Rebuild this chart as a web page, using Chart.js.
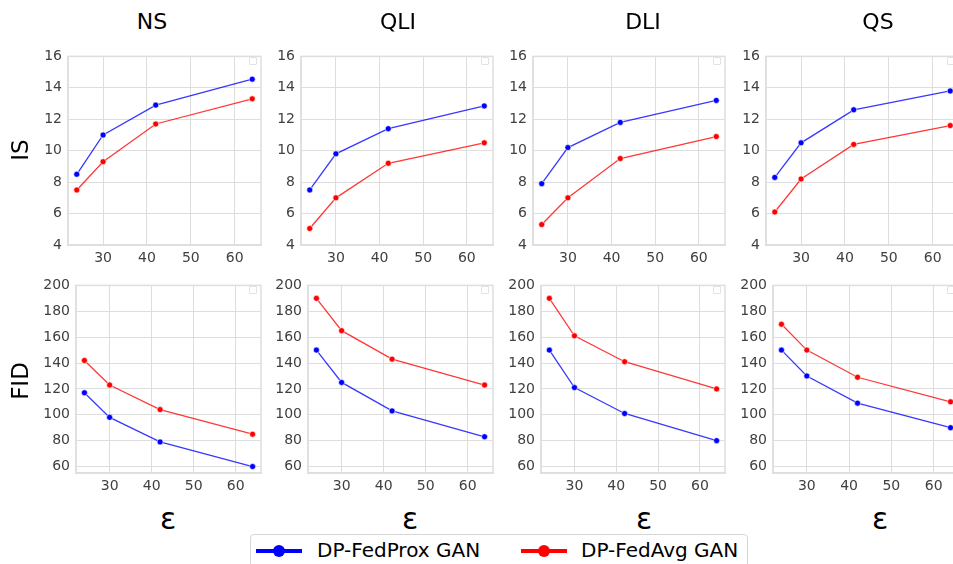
<!DOCTYPE html>
<html>
<head>
<meta charset="utf-8">
<script src="https://cdn.jsdelivr.net/npm/chart.js@4.4.1/dist/chart.umd.min.js"></script>
<style>
  body { margin: 0; width: 953px; height: 564px; overflow: hidden; background: #fff; font-family: "DejaVu Sans", sans-serif; position: relative; }
  canvas { position: absolute; }
  .lbl { position: absolute; color: #000; white-space: nowrap; transform: translate(-50%, -50%); }
  .mini { position: absolute; width: 6px; height: 6px; border: 1px solid #e2e2e2; border-radius: 1px; }
  #legend { position: absolute; left: 250px; top: 534px; width: 496px; height: 40px; border: 1px solid #d6d6d6; border-radius: 4px; }
  .key { position: absolute; top: 14px; width: 46px; height: 4px; }
  .key i { position: absolute; left: 17px; top: -4px; width: 12px; height: 12px; border-radius: 50%; }
  .ktxt { position: absolute; top: 3px; font-size: 20px; }
</style>
</head>
<body>
<div id="legend">
  <div class="key" style="left:5px;background:#0000ff"><i style="background:#0000ff"></i></div>
  <div class="ktxt" style="left:66px">DP-FedProx GAN</div>
  <div class="key" style="left:270px;background:#ff0000"><i style="background:#ff0000"></i></div>
  <div class="ktxt" style="left:330px">DP-FedAvg GAN</div>
</div>
<script>
// privacy budget on the x axis
const eps = [24, 30, 42, 64];
const epsTicks = [30, 40, 50, 60];
const columns = ['NS', 'QLI', 'DLI', 'QS'];

// IS (top row), one array per column
const isFedProx = [
  [8.5, 11.0, 12.9, 14.55],
  [7.5, 9.8, 11.4, 12.85],
  [7.9, 10.2, 11.8, 13.2],
  [8.3, 10.5, 12.6, 13.8]
];
const isFedAvg = [
  [7.5, 9.3, 11.7, 13.3],
  [5.05, 7.0, 9.2, 10.5],
  [5.3, 7.0, 9.5, 10.9],
  [6.1, 8.2, 10.4, 11.6]
];
const isTicks = [4, 6, 8, 10, 12, 14, 16];

// FID (bottom row)
const fidFedProx = [
  [117, 98, 79, 60],
  [150, 125, 103, 83],
  [150, 121, 101, 80],
  [150, 130, 109, 90]
];
const fidFedAvg = [
  [142, 123, 104, 85],
  [190, 165, 143, 123],
  [190, 161, 141, 120],
  [170, 150, 129, 110]
];
const fidTicks = [60, 80, 100, 120, 140, 160, 180, 200];

// plot area placement
const isLeft = [68, 301, 533, 766];
const fidLeft = [76, 308, 541, 773];
const plotRight = [261, 493, 725, 959];
const rowTop = [54, 283];
const rowHeight = [191, 190];

const yAxisW = 46, xAxisH = 28, padTop = 12, padRight = 6;

function makePanel(row, col) {
  var left = row == 0 ? isLeft[col] : fidLeft[col];
  var w = plotRight[col] - left;
  var h = rowHeight[row];
  var canvas = document.createElement('canvas');
  canvas.width = w + yAxisW + padRight;
  canvas.height = h + xAxisH + padTop;
  canvas.style.left = (left - yAxisW) + 'px';
  canvas.style.top = (rowTop[row] - padTop) + 'px';
  document.body.appendChild(canvas);

  var prox = row == 0 ? isFedProx[col] : fidFedProx[col];
  var avg = row == 0 ? isFedAvg[col] : fidFedAvg[col];
  var yTicks = row == 0 ? isTicks : fidTicks;

  var series = function(vals, line, dot) {
    return {
      data: vals.map((v, i) => ({x: eps[i], y: v})),
      borderColor: line,
      backgroundColor: dot,
      pointBackgroundColor: dot,
      pointBorderColor: '#ffffff',
      pointBorderWidth: 0.6,
      pointRadius: 3,
      borderWidth: 1.3,
      tension: 0
    };
  };

  new Chart(canvas.getContext('2d'), {
    type: 'line',
    data: {
      datasets: [
        series(avg, 'rgba(255,0,0,0.78)', '#ff0000'),
        series(prox, 'rgba(0,0,255,0.78)', '#0000ff')
      ]
    },
    options: {
      responsive: false,
      animation: false,
      layout: { padding: { top: padTop, right: padRight, left: 0, bottom: 0 } },
      plugins: { legend: { display: false }, tooltip: { enabled: false } },
      scales: {
        x: {
          type: 'linear', min: 22, max: 66,
          afterBuildTicks: s => { s.ticks = epsTicks.map(v => ({value: v})); },
          afterFit: s => { s.height = xAxisH; },
          grid: { color: '#dedede', lineWidth: 1, drawTicks: false },
          border: { color: '#dedede', width: 1.5 },
          ticks: { color: '#404040', font: { family: 'DejaVu Sans', size: 14 }, padding: 5, maxRotation: 0 }
        },
        y: {
          min: yTicks[0] - (row == 0 ? 0 : 5), max: yTicks[yTicks.length - 1],
          afterBuildTicks: s => { s.ticks = yTicks.map(v => ({value: v})); },
          afterFit: s => { s.width = yAxisW; },
          grid: { color: '#dedede', lineWidth: 1, drawTicks: false },
          border: { color: '#dedede', width: 1.5 },
          ticks: { color: '#404040', font: { family: 'DejaVu Sans', size: 14 }, padding: 6 }
        }
      }
    },
    plugins: [{
      id: 'frame',
      afterDraw: function(chart) {
        var a = chart.chartArea, c = chart.ctx;
        c.save();
        c.strokeStyle = '#dedede';
        c.lineWidth = 1.5;
        c.strokeRect(a.left, a.top, a.right - a.left, a.bottom - a.top);
        c.restore();
      }
    }]
  });

  var mini = document.createElement('div');
  mini.className = 'mini';
  mini.style.left = (plotRight[col] - 12) + 'px';
  mini.style.top = (rowTop[row] + 3) + 'px';
  document.body.appendChild(mini);
}

function addLabel(text, x, y, size, rotate) {
  var d = document.createElement('div');
  d.className = 'lbl';
  d.textContent = text;
  d.style.left = x + 'px';
  d.style.top = y + 'px';
  d.style.fontSize = size + 'px';
  if (rotate) d.style.transform = 'translate(-50%, -50%) rotate(-90deg)';
  document.body.appendChild(d);
}

const titleX = [152, 398, 643, 878];
const epsX = [168, 410, 644, 880];
columns.forEach((name, col) => {
  addLabel(name, titleX[col], 21, 22);
  addLabel('ε', epsX[col], 518, 30);
  makePanel(0, col);
  makePanel(1, col);
});
addLabel('IS', 20, 150, 23, true);
addLabel('FID', 20, 381, 23, true);
</script>
</body>
</html>
